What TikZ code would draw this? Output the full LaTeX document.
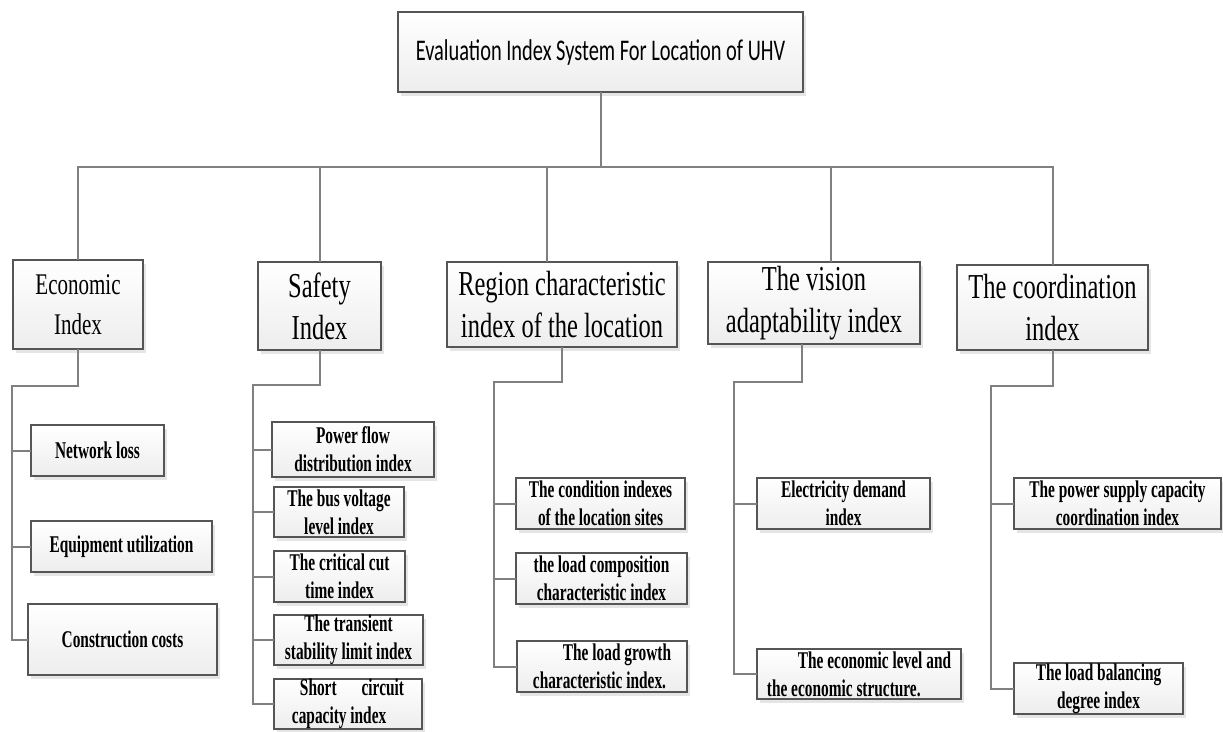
\documentclass[tikz,border=0pt]{standalone}
\usepackage{fontspec}
\usepackage{tikz}
\usetikzlibrary{positioning, shadows}

\setmainfont{Liberation Serif}
\newfontfamily\rootfont[FakeStretch=0.68]{Carlito}
\newfontfamily\catfont[FakeStretch=0.7]{Liberation Serif}
\newfontfamily\itemfont[FakeStretch=0.64]{Liberation Serif}

\definecolor{boxgray}{HTML}{555555}
\definecolor{linkgray}{HTML}{808080}

\begin{document}
\begin{tikzpicture}[x=1pt, y=-1pt, outer sep=0pt,
    box/.style={draw=boxgray, line width=1.2pt, rectangle, anchor=north west, inner sep=0pt, top color=white, bottom color=gray!14, drop shadow={shadow xshift=3pt, shadow yshift=-4pt, fill=gray!40, opacity=0.5}},
    rootbox/.style={box, font=\rootfont\fontsize{30}{36}\selectfont},
    catbox/.style={box, align=center, font=\catfont\fontsize{35}{42}\selectfont},
    itembox/.style={box, align=center, font=\itemfont\bfseries\fontsize{24}{28}\selectfont},
    link/.style={draw=linkgray, line width=2pt}]
    \useasboundingbox (0,0) rectangle (1223,731);

    \node (root) [rootbox, minimum width=405pt, minimum height=80pt] at (398,12) {Evaluation Index System For Location of UHV};

    % first level
    \node (eco) [catbox, minimum width=130pt, minimum height=89pt, font=\catfont\fontsize{30}{40}\selectfont] at (13,260) {Economic\\Index};
    \node (safe) [catbox, minimum width=123pt, minimum height=88pt] at (258,262) {Safety\\Index};
    \node (region) [catbox, minimum width=230pt, minimum height=85pt] at (447,262) {Region characteristic\\index of the location};
    \node (vision) [catbox, minimum width=212pt, minimum height=82pt] at (708,262) {The vision\\adaptability index};
    \node (coord) [catbox, minimum width=191pt, minimum height=85pt] at (957,265) {The coordination\\index};

    % second level
    \node (net) [itembox, minimum width=133pt, minimum height=51pt] at (31,425) {Network loss};
    \node (equip) [itembox, minimum width=181pt, minimum height=51pt] at (31,521) {Equipment utilization};
    \node (cost) [itembox, minimum width=189pt, minimum height=71pt] at (28,604) {Construction costs};

    \node (flow) [itembox, minimum width=162pt, minimum height=55pt] at (272,422) {Power flow\\distribution index};
    \node (bus) [itembox, minimum width=130pt, minimum height=50pt] at (274,487) {The bus voltage\\level index};
    \node (cut) [itembox, minimum width=131pt, minimum height=51pt] at (274,551) {The critical cut\\time index};
    \node (trans) [itembox, minimum width=149pt, minimum height=50pt] at (274,615) {The transient\\stability limit index};
    \node (short) [itembox, align=left, minimum width=148pt, minimum height=50pt] at (274,679) {\hspace*{8pt}Short\hspace{25pt}circuit\\capacity index};

    \node (site) [itembox, minimum width=169pt, minimum height=51pt] at (516,478) {The condition indexes\\of the location sites};
    \node (comp) [itembox, minimum width=171pt, minimum height=51pt] at (516,553) {the load composition\\characteristic index};
    \node (growth) [itembox, align=left, minimum width=170pt, minimum height=51pt] at (517,641) {\hspace*{30pt}The load growth\\characteristic index.};

    \node (demand) [itembox, minimum width=173pt, minimum height=51pt] at (757,478) {Electricity demand\\index};
    \node (level) [itembox, align=left, minimum width=204pt, minimum height=50pt] at (757,649) {\hspace*{31pt}The economic level and\\the economic structure.};

    \node (supply) [itembox, minimum width=207pt, minimum height=51pt] at (1014,478) {The power supply capacity\\coordination index};
    \node (balance) [itembox, minimum width=169pt, minimum height=51pt] at (1014,663) {The load balancing\\degree index};

    % connectors
    \coordinate (hub) at (602,167);
    \draw[link] (root.south) -- (root.south |- hub);
    \draw[link] (eco.north) |- (hub) -| (coord.north);
    \draw[link] (safe.north) -- (safe.north |- hub);
    \draw[link] ([xshift=-15pt]region.north) -- ([xshift=-15pt]region.north |- hub);
    \draw[link] ([xshift=17pt]vision.north) -- ([xshift=17pt]vision.north |- hub);

    \coordinate (ecoT) at (12,386);
    \draw[link] (eco.south) |- (ecoT) |- (cost.west);
    \draw[link] (ecoT |- net.west) -- (net.west);
    \draw[link] (ecoT |- equip.west) -- (equip.west);

    \coordinate (safeT) at (253,385);
    \draw[link] (safe.south) |- (safeT) |- (short.west);
    \draw[link] (safeT |- flow.west) -- (flow.west);
    \draw[link] (safeT |- bus.west) -- (bus.west);
    \draw[link] (safeT |- cut.west) -- (cut.west);
    \draw[link] (safeT |- trans.west) -- (trans.west);

    \coordinate (regionT) at (494,382);
    \draw[link] (region.south) |- (regionT) |- (growth.west);
    \draw[link] (regionT |- site.west) -- (site.west);
    \draw[link] (regionT |- comp.west) -- (comp.west);

    \coordinate (visionT) at (734,382);
    \draw[link] ([xshift=-12pt]vision.south) |- (visionT) |- (level.west);
    \draw[link] (visionT |- demand.west) -- (demand.west);

    \coordinate (coordT) at (991,386);
    \draw[link] (coord.south) |- (coordT) |- (balance.west);
    \draw[link] (coordT |- supply.west) -- (supply.west);
\end{tikzpicture}
\end{document}
